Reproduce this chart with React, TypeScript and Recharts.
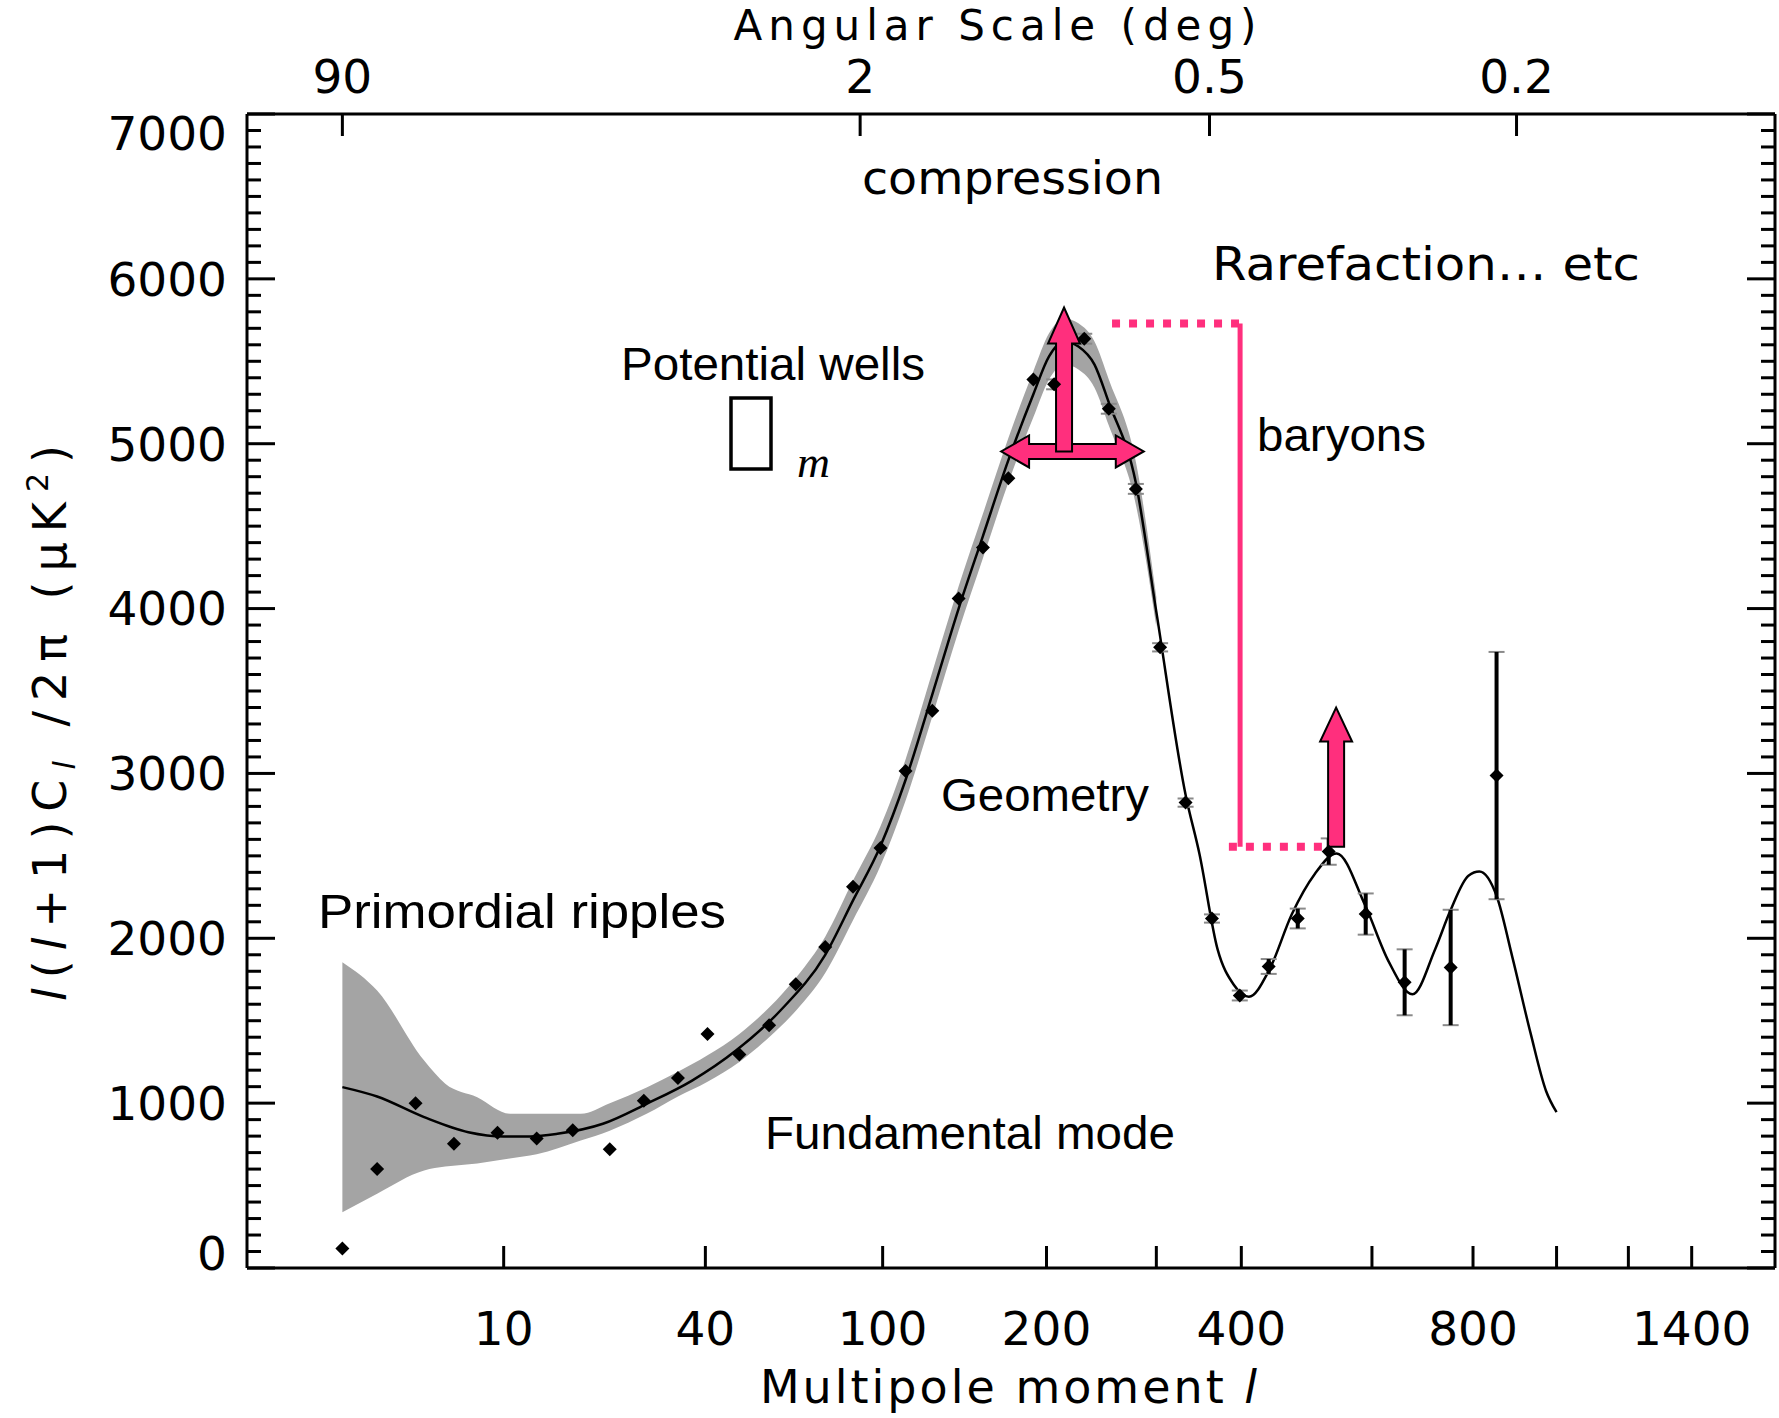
import React from "react";
import {
  Area,
  ComposedChart,
  ErrorBar,
  Line,
  ReferenceLine,
  Scatter,
  XAxis,
  YAxis,
} from "recharts";

const W = 1779;
const H = 1418;
const PINK = "#ff2f7d";
const AXIS_FONT = "DejaVu Sans";
const NOTE_FONT = "Liberation Sans";

// bottom axis: multipole ticks and the labels shown under them
const multipoleTicks = [10, 40, 100, 200, 300, 400, 600, 800, 1000, 1200, 1400];
const multipoleLabels = ["10", "40", "100", "200", "", "400", "", "800", "", "", "1400"];

// top axis: angular scale in degrees (l ~ 180 / theta)
const angleTicks = [90, 2, 0.5, 0.2];
const angleLabels = ["90", "2", "0.5", "0.2"];

// left / right axes: minor tick every 100, labelled every 1000
const powerTicks = Array.from({ length: 71 }, (_, i) => i * 100);

// best-fit model spectrum
const modelL = [
  2, 3, 4.9, 7.4, 10, 12.4, 15.2, 21, 28, 37, 47.6, 60.5, 76, 87, 99, 111, 125, 140, 155, 172,
  190, 202, 214, 226, 240, 253, 279, 300, 332, 348, 370, 390, 410, 438, 470, 505, 540, 588, 630,
  675, 720, 751, 790, 814, 853, 890, 934, 973, 1000,
];
const modelV = [
  1097, 1040, 915, 824, 798, 798, 814, 875, 996, 1137, 1319, 1562, 1900, 2230, 2560, 2960, 3480,
  4000, 4440, 4900, 5300, 5530, 5620, 5590, 5480, 5250, 4763, 3980, 2871, 2513, 1931, 1720, 1645,
  1810, 2144, 2390, 2515, 2200, 1860, 1660, 1934, 2165, 2380, 2405, 2258, 1886, 1426, 1074, 945,
];

// cosmic variance band around the model
const bandL = [
  2, 3, 4.9, 6, 8, 10.5, 13, 18, 22, 28, 34, 40.5, 48.5, 57, 66, 76, 87, 99, 111, 125, 140, 155,
  172, 190, 202, 214, 226, 240, 253, 279, 300,
];
const bandLo = [
  338, 451, 592, 615, 634, 664, 690, 773, 833, 935, 1040, 1130, 1250, 1400, 1570, 1790, 2110, 2440,
  2835, 3345, 3865, 4305, 4765, 5160, 5390, 5480, 5450, 5340, 5110, 4630, 3890,
];
const bandHi = [
  1855, 1683, 1258, 1118, 1036, 936, 936, 936, 1000, 1095, 1190, 1290, 1420, 1580, 1770, 2010, 2350,
  2680, 3085, 3615, 4135, 4575, 5035, 5440, 5670, 5760, 5730, 5620, 5390, 4890, 4070,
];

// binned measurements, low multipoles (no error bars drawn)
const lowL = [2, 3, 4.5, 6.5, 9.5, 13, 17, 22, 27.5, 34, 40.5, 48.5, 57, 65.5, 76, 87, 99, 111, 125, 140, 155, 172, 190];
const lowV = [118, 600, 1000, 753, 820, 785, 836, 720, 1014, 1152, 1420, 1295, 1472, 1721, 1947, 2313, 2547, 3015, 3380, 4061, 4371, 4790, 5389];

// binned measurements with error bars
const highL = [206, 231, 253, 279, 304, 332, 363, 398, 437, 479, 527, 589, 660, 752, 853];
const highV = [5360, 5637, 5212, 4726, 3765, 2823, 2120, 1653, 1829, 2120, 2526, 2147, 1733, 1823, 2987];
const highErr = [30, 30, 30, 30, 25, 25, 25, 30, 45, 60, 80, 125, 200, 350, 750];

// annotation arrows and the baryon bracket (multipole, power)
const peakArrow = { l: 214, from: 4953, to: 5826 };
const widthArrow = { from: 167, to: 287, v: 4953 };
const secondArrow = { l: 539, from: 2555, to: 3400 };
const bracket = { top: 5729, bottom: 2555, l: 398.4, topStart: 256, bottomStart: 384, bottomEnd: 530 };

// the multipole axis is drawn in l^(1/4)
const q = (l: number) => Math.pow(l, 0.25);
const X_DOMAIN: [number, number] = [q(0.5), q(1700)];

const modelRows = modelL.map((l, i) => ({ x: q(l), y: modelV[i] }));
const bandRows = bandL.map((l, i) => ({ x: q(l), range: [bandLo[i], bandHi[i]] }));
const lowRows = lowL.map((l, i) => ({ x: q(l), y: lowV[i] }));
const highRows = highL.map((l, i) => ({ x: q(l), y: highV[i], err: highErr[i] }));

const findTick = (values: number[], v: number) => values.findIndex((t) => Math.abs(t - v) < 1e-6);

function LeftTick(props: any) {
  const { x, y, payload } = props;
  const v = payload.value;
  const major = v % 1000 === 0;
  const shift = v === 0 ? -15 : v === 7000 ? 19 : 0;
  return (
    <g>
      <line x1={x} x2={x + (major ? 28 : 14)} y1={y} y2={y} stroke="#000" strokeWidth={3} />
      {major && (
        <text x={x - 20} y={y + shift} dy="0.36em" textAnchor="end" fontFamily={AXIS_FONT} fontSize={47} fill="#000">
          {v}
        </text>
      )}
    </g>
  );
}

function RightTick(props: any) {
  const { x, y, payload } = props;
  const major = payload.value % 1000 === 0;
  return <line x1={x} x2={x - (major ? 28 : 14)} y1={y} y2={y} stroke="#000" strokeWidth={3} />;
}

function BottomTick(props: any) {
  const { x, y, payload } = props;
  const i = findTick(multipoleTicks.map(q), payload.value);
  const label = i >= 0 ? multipoleLabels[i] : "";
  return (
    <g>
      <line x1={x} x2={x} y1={y} y2={y - 22} stroke="#000" strokeWidth={3} />
      {label && (
        <text x={x} y={y + 77} textAnchor="middle" fontFamily={AXIS_FONT} fontSize={47} fill="#000">
          {label}
        </text>
      )}
    </g>
  );
}

function TopTick(props: any) {
  const { x, y, payload } = props;
  const i = findTick(angleTicks.map((d) => q(180 / d)), payload.value);
  return (
    <g>
      <line x1={x} x2={x} y1={y} y2={y + 22} stroke="#000" strokeWidth={3} />
      <text x={x} y={y - 21} textAnchor="middle" fontFamily={AXIS_FONT} fontSize={47} fill="#000">
        {i >= 0 ? angleLabels[i] : ""}
      </text>
    </g>
  );
}

function Diamond(props: any) {
  const { cx, cy } = props;
  if (cx == null || cy == null) return null;
  return <polygon points={`${cx},${cy - 7} ${cx + 7},${cy} ${cx},${cy + 7} ${cx - 7},${cy}`} fill="#000" />;
}

// block arrow from (x1,y1) to the tip at (x2,y2)
function blockArrow(shaft: number, head: number, headLen: number, double = false) {
  return (p: any) => {
    const { x1, y1, x2, y2 } = p;
    const dx = x2 - x1;
    const dy = y2 - y1;
    const len = Math.hypot(dx, dy) || 1;
    const ux = dx / len;
    const uy = dy / len;
    const pt = (a: number, b: number) => `${x1 + ux * a - uy * b},${y1 + uy * a + ux * b}`;
    const pts = double
      ? [pt(0, 0), pt(headLen, head), pt(headLen, shaft), pt(len - headLen, shaft), pt(len - headLen, head), pt(len, 0),
         pt(len - headLen, -head), pt(len - headLen, -shaft), pt(headLen, -shaft), pt(headLen, -head)]
      : [pt(0, shaft), pt(len - headLen, shaft), pt(len - headLen, head), pt(len, 0), pt(len - headLen, -head),
         pt(len - headLen, -shaft), pt(0, -shaft)];
    return <polygon points={pts.join(" ")} fill={PINK} stroke="#000" strokeWidth={2} />;
  };
}

function Notes() {
  const arial = { fontFamily: NOTE_FONT, fontSize: 46, fill: "#000", lengthAdjust: "spacingAndGlyphs" as const };
  const round = { fontFamily: AXIS_FONT, fontSize: 46, fill: "#000", lengthAdjust: "spacingAndGlyphs" as const };
  return (
    <svg width={W} height={H} style={{ position: "absolute", left: 0, top: 0, pointerEvents: "none" }}>
      <text x={998} y={40} textAnchor="middle" fontFamily={AXIS_FONT} fontSize={42} letterSpacing={6}>
        Angular Scale (deg)
      </text>
      <text x={1010} y={1403} textAnchor="middle" fontFamily={AXIS_FONT} fontSize={46} letterSpacing={3}>
        Multipole moment <tspan fontStyle="italic">l</tspan>
      </text>
      <text transform="translate(66, 718) rotate(-90)" textAnchor="middle" fontFamily={AXIS_FONT} fontSize={46} letterSpacing={10}>
        <tspan fontStyle="italic">l</tspan>(<tspan fontStyle="italic">l</tspan>+1)C
        <tspan fontStyle="italic" fontSize={30} dy={9}>l</tspan>
        <tspan dy={-9}> /2π (μK</tspan>
        <tspan fontSize={30} dy={-18}>2</tspan>
        <tspan dy={18}>)</tspan>
      </text>

      <text x={862} y={194} textLength={301} {...round}>compression</text>
      <text x={1212} y={280} textLength={428} {...round}>Rarefaction… etc</text>

      <text x={621} y={380} textLength={304} {...arial}>Potential wells</text>
      <rect x={731} y={398} width={40} height={71} fill="none" stroke="#000" strokeWidth={3.5} />
      <text x={797} y={477} textLength={33} lengthAdjust="spacingAndGlyphs" fontFamily="Liberation Serif" fontStyle="italic" fontSize={44}>
        m
      </text>
      <text x={1257} y={451} textLength={169} {...arial}>baryons</text>
      <text x={941} y={811} textLength={208} {...arial}>Geometry</text>
      <text x={318} y={928} textLength={408} {...arial} fontSize={48}>Primordial ripples</text>
      <text x={765} y={1149} textLength={410} {...arial}>Fundamental mode</text>
    </svg>
  );
}

export default function App() {
  return (
    <div style={{ position: "absolute", left: 0, top: 0, width: W, height: H, background: "#fff" }}>
      <ComposedChart width={W} height={H} margin={{ top: 0, right: 0, bottom: 0, left: 0 }}>
        <XAxis
          xAxisId="l"
          type="number"
          dataKey="x"
          orientation="bottom"
          domain={X_DOMAIN}
          allowDataOverflow
          ticks={multipoleTicks.map(q)}
          interval={0}
          height={150}
          tick={<BottomTick />}
          tickLine={false}
          tickSize={0}
          tickMargin={0}
          axisLine={{ stroke: "#000", strokeWidth: 3 }}
        />
        <XAxis
          xAxisId="deg"
          type="number"
          dataKey="x"
          orientation="top"
          domain={X_DOMAIN}
          allowDataOverflow
          ticks={angleTicks.map((d) => q(180 / d))}
          interval={0}
          height={114}
          tick={<TopTick />}
          tickLine={false}
          tickSize={0}
          tickMargin={0}
          axisLine={{ stroke: "#000", strokeWidth: 3 }}
        />
        <YAxis
          yAxisId="v"
          type="number"
          domain={[0, 7000]}
          allowDataOverflow
          ticks={powerTicks}
          interval={0}
          width={247}
          tick={<LeftTick />}
          tickLine={false}
          tickSize={0}
          tickMargin={0}
          axisLine={{ stroke: "#000", strokeWidth: 3 }}
        />
        <YAxis
          yAxisId="r"
          orientation="right"
          type="number"
          domain={[0, 7000]}
          allowDataOverflow
          ticks={powerTicks}
          interval={0}
          width={4}
          tick={<RightTick />}
          tickLine={false}
          tickSize={0}
          tickMargin={0}
          axisLine={{ stroke: "#000", strokeWidth: 3 }}
        />

        {/* invisible carrier so the angular-scale axis gets a scale of its own */}
        <Line
          xAxisId="deg"
          yAxisId="r"
          data={modelRows}
          dataKey="y"
          stroke="none"
          dot={false}
          activeDot={false}
          legendType="none"
          isAnimationActive={false}
        />
        <Area
          xAxisId="l"
          yAxisId="v"
          data={bandRows}
          dataKey="range"
          type="monotone"
          stroke="none"
          fill="#a4a4a4"
          fillOpacity={1}
          isAnimationActive={false}
        />
        <Line
          xAxisId="l"
          yAxisId="v"
          data={modelRows}
          dataKey="y"
          type="monotone"
          stroke="#000"
          strokeWidth={2.5}
          dot={false}
          isAnimationActive={false}
        />
        <Scatter xAxisId="l" yAxisId="v" data={lowRows} dataKey="y" shape={<Diamond />} isAnimationActive={false} />
        <Scatter xAxisId="l" yAxisId="v" data={highRows} dataKey="y" shape={<Diamond />} isAnimationActive={false}>
          <ErrorBar dataKey="err" direction="y" width={8} stroke="#8a8a8a" strokeWidth={2} />
          <ErrorBar dataKey="err" direction="y" width={0} stroke="#000" strokeWidth={4} />
        </Scatter>

        <ReferenceLine
          xAxisId="l"
          yAxisId="v"
          segment={[{ x: q(bracket.topStart), y: bracket.top }, { x: q(bracket.l), y: bracket.top }]}
          stroke={PINK}
          strokeWidth={8}
          strokeDasharray="8 9"
        />
        <ReferenceLine
          xAxisId="l"
          yAxisId="v"
          segment={[{ x: q(bracket.bottomStart), y: bracket.bottom }, { x: q(bracket.bottomEnd), y: bracket.bottom }]}
          stroke={PINK}
          strokeWidth={8}
          strokeDasharray="8 9"
        />
        <ReferenceLine
          xAxisId="l"
          yAxisId="v"
          segment={[{ x: q(bracket.l), y: bracket.top }, { x: q(bracket.l), y: bracket.bottom }]}
          stroke={PINK}
          strokeWidth={5}
        />
        <ReferenceLine
          xAxisId="l"
          yAxisId="v"
          segment={[{ x: q(widthArrow.from), y: widthArrow.v }, { x: q(widthArrow.to), y: widthArrow.v }]}
          shape={blockArrow(7.5, 16, 28, true)}
        />
        <ReferenceLine
          xAxisId="l"
          yAxisId="v"
          segment={[{ x: q(peakArrow.l), y: peakArrow.from }, { x: q(peakArrow.l), y: peakArrow.to }]}
          shape={blockArrow(8, 16, 36)}
        />
        <ReferenceLine
          xAxisId="l"
          yAxisId="v"
          segment={[{ x: q(secondArrow.l), y: secondArrow.from }, { x: q(secondArrow.l), y: secondArrow.to }]}
          shape={blockArrow(8, 16, 34)}
        />
      </ComposedChart>
      <Notes />
    </div>
  );
}
